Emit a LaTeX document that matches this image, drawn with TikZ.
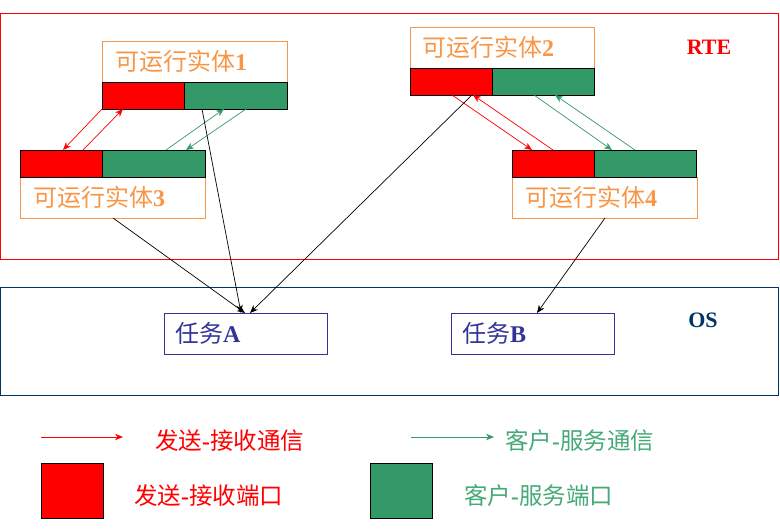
\documentclass[tikz,border=0pt]{standalone}
\usepackage{fontspec}
\setmainfont{Liberation Serif}
\newfontfamily\cjk{Noto Sans CJK SC}
\usetikzlibrary{arrows.meta}
\definecolor{entorange}{RGB}{247,150,70}
\definecolor{csgreen}{RGB}{51,153,102}
\definecolor{csgreentext}{RGB}{70,170,120}
\definecolor{taskblue}{RGB}{51,51,153}
\definecolor{osblue}{RGB}{0,51,102}
\definecolor{srred}{RGB}{255,0,0}
\tikzset{
  box/.style={draw, anchor=north west, inner sep=0pt, outer sep=0pt},
  entbox/.style={box, draw=entorange, line width=0.8pt, minimum width=185pt, minimum height=41pt},
  redport/.style={box, draw=black, line width=0.9pt, fill=srred, minimum width=82pt, minimum height=27pt},
  greenport/.style={box, draw=black, line width=0.9pt, fill=csgreen, minimum width=103pt, minimum height=27pt},
  enttext/.style={anchor=west, inner sep=0pt, text=entorange, font=\fontsize{24}{28}\selectfont},
  taskbox/.style={box, draw=taskblue, line width=0.8pt, minimum width=163pt, minimum height=41pt},
  tasktext/.style={anchor=west, inner sep=0pt, text=taskblue, font=\fontsize{24}{28}\selectfont},
  srarrow/.style={draw=srred, line width=0.7pt, -{Stealth[length=8pt,width=6.5pt]}},
  csarrow/.style={draw=csgreen, line width=0.7pt, -{Stealth[length=8pt,width=6.5pt]}},
  blackarrow/.style={draw=black, line width=0.7pt, -{Stealth[length=8pt,width=6.5pt]}},
  legtext/.style={anchor=west, inner sep=0pt, font=\fontsize{23.5}{27}\selectfont},
}
\begin{document}
\begin{tikzpicture}[x=1pt,y=-1pt]
\useasboundingbox (0,0) rectangle (780,531);
% layer boxes
\node[box, draw=srred, line width=0.8pt, minimum width=778pt, minimum height=246pt] (rte) at (0,13) {};
\node[box, draw=osblue, line width=0.9pt, minimum width=778pt, minimum height=108pt] (os) at (0,287) {};
\node[anchor=center, inner sep=0pt, text=srred, font=\fontsize{22}{26}\selectfont\bfseries] (rtelabel) at (709,47) {RTE};
\node[anchor=center, inner sep=0pt, text=osblue, font=\fontsize{22}{26}\selectfont\bfseries] (oslabel) at (703,320) {OS};
% entity 1
\node[entbox] (e1l) at (102,41) {};
\node[redport] (e1r) at (102,82) {};
\node[greenport] (e1g) at (184,82) {};
\node[enttext] (e1t) at (115,61.5) {{\cjk 可运行实体}\textbf{1}};
% entity 2
\node[entbox, minimum width=184pt] (e2l) at (410,27) {};
\node[redport] (e2r) at (410,68) {};
\node[greenport, minimum width=102pt] (e2g) at (492,68) {};
\node[enttext] (e2t) at (422,47.5) {{\cjk 可运行实体}\textbf{2}};
% entity 3
\node[entbox] (e3l) at (20,177) {};
\node[redport] (e3r) at (20,150) {};
\node[greenport] (e3g) at (102,150) {};
\node[enttext] (e3t) at (33,197.5) {{\cjk 可运行实体}\textbf{3}};
% entity 4
\node[entbox] (e4l) at (512,177) {};
\node[redport] (e4r) at (512,150) {};
\node[greenport, minimum width=102pt] (e4g) at (594,150) {};
\node[enttext] (e4t) at (525,197.5) {{\cjk 可运行实体}\textbf{4}};
% tasks
\node[taskbox] (ta) at (164,313) {};
\node[tasktext] (tat) at (175,333.5) {{\cjk 任务}\textbf{A}};
\node[taskbox] (tb) at (451,313) {};
\node[tasktext] (tbt) at (462,333.5) {{\cjk 任务}\textbf{B}};
% E1 <-> E3
\draw[srarrow] (e1r.south west) -- ([xshift=43pt]e3r.north west);
\draw[srarrow] ([xshift=63pt]e3r.north west) -- ([xshift=21pt]e1r.south west);
\draw[csarrow] ([xshift=64pt]e3g.north west) -- ([xshift=40pt]e1g.south west);
\draw[csarrow] ([xshift=62pt]e1g.south west) -- ([xshift=84pt]e3g.north west);
% E2 <-> E4
\draw[srarrow] ([xshift=42pt]e2r.south west) -- ([xshift=20pt]e4r.north west);
\draw[srarrow] ([xshift=41pt]e4r.north west) -- ([xshift=63pt]e2r.south west);
\draw[csarrow] ([xshift=42pt]e2g.south west) -- ([xshift=18pt]e4g.north west);
\draw[csarrow] ([xshift=41pt]e4g.north west) -- ([xshift=63pt]e2g.south west);
% to tasks
\draw[blackarrow] ([xshift=18pt]e1g.south west) -- ([xshift=77pt]ta.north west);
\draw[blackarrow] ([xshift=93pt]e3l.south west) -- ([xshift=81pt]ta.north west);
\draw[blackarrow] ([xshift=62pt]e2r.south west) -- ([xshift=86pt]ta.north west);
\draw[blackarrow] ([xshift=93pt]e4l.south west) -- ([xshift=86pt]tb.north west);
% legend
\coordinate (lsr1) at (41,437);
\coordinate (lsr2) at (123,437);
\draw[srarrow] (lsr1) -- (lsr2);
\node[legtext, text=srred] (lsrt) at (155,441) {{\cjk 发送}\textbf{-}{\cjk 接收通信}};
\coordinate (lcs1) at (411,437);
\coordinate (lcs2) at (494,437);
\draw[csarrow] (lcs1) -- (lcs2);
\node[legtext, text=csgreentext] (lcst) at (505,441) {{\cjk 客户}\textbf{-}{\cjk 服务通信}};
\node[box, draw=black, line width=0.9pt, fill=srred, minimum width=62pt, minimum height=55pt] (lsrbox) at (41,463) {};
\node[legtext, text=srred] (lsrpt) at (134,496) {{\cjk 发送}\textbf{-}{\cjk 接收端口}};
\node[box, draw=black, line width=0.9pt, fill=csgreen, minimum width=62pt, minimum height=55pt] (lcsbox) at (370,463) {};
\node[legtext, text=csgreentext] (lcspt) at (464,496) {{\cjk 客户}\textbf{-}{\cjk 服务端口}};
\end{tikzpicture}
\end{document}
